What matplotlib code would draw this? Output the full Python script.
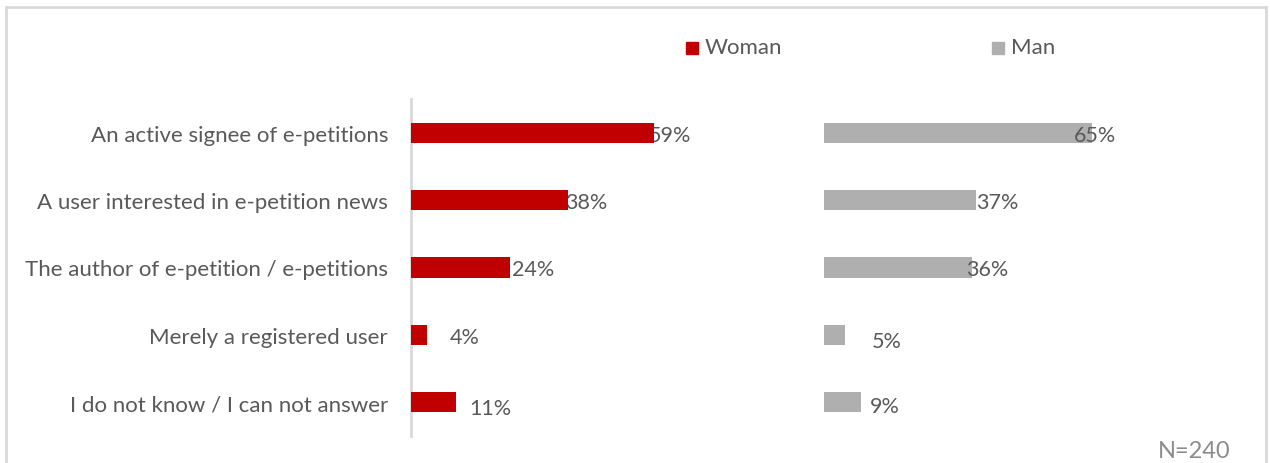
import numpy as np
import matplotlib
matplotlib.use("Agg")
import matplotlib.pyplot as plt
from matplotlib.patches import Rectangle

plt.rcParams['font.family'] = ['Lato', 'DejaVu Sans']

categories = [
    "An active signee of e-petitions",
    "A user interested in e-petition news",
    "The author of e-petition / e-petitions",
    "Merely a registered user",
    "I do not know / I can not answer",
]
woman = [59, 38, 24, 4, 11]
man = [65, 37, 36, 5, 9]
series_names = ["Woman", "Man"]
note = "N=240"

RED = '#c00000'
GREY = '#afafaf'
TEXT = '#595959'
LINE = '#d9d9d9'

# label nudges (pixels) to mimic the Excel placement
woman_dx = [-5, -2, 2, 22, 13]
man_dx = [-18, 0, -6, 27, 9]
woman_dy = [-2, -2, -2, -2, -6]
man_dy = [-2, -2, -2, -6, -4]

fig = plt.figure(figsize=(12.7, 4.64), dpi=100)

W, H = 1270, 464
ax1 = fig.add_axes([411 / W, 1 - 437 / H, 412 / W, 337 / H])
ax2 = fig.add_axes([824 / W, 1 - 437 / H, 412 / W, 337 / H])

y = np.arange(len(categories))


def draw(ax, vals, color, dx, dy, text_on_top):
    ax.barh(y, vals, height=0.3, color=color, zorder=3)
    for yi, v, ddx, ddy in zip(y, vals, dx, dy):
        ax.annotate(f"{v}%", (v, yi), xytext=(ddx, ddy), textcoords='offset pixels',
                    ha='left', va='center', fontsize=15.5, color=TEXT,
                    zorder=4 if text_on_top else 2)
    ax.set_xlim(0, 100)
    ax.set_ylim(len(categories) - 0.5, -0.5)
    ax.set_xticks([])
    for s in ax.spines.values():
        s.set_visible(False)
    ax.patch.set_visible(False)


draw(ax1, woman, RED, woman_dx, woman_dy, False)
draw(ax2, man, GREY, man_dx, man_dy, True)

ax1.spines['left'].set_visible(True)
ax1.spines['left'].set_color(LINE)
ax1.spines['left'].set_linewidth(2)
ax1.set_yticks(y)
ax1.set_yticklabels(categories, fontsize=16, color=TEXT)
ax1.tick_params(axis='y', length=0, pad=16.5)
ax2.set_yticks([])

# legend entries, placed like the Excel header
fig.patches.append(Rectangle((686 / W, 1 - 55 / H), 12 / W, 12 / H,
                             transform=fig.transFigure, color=RED))
fig.text(705 / W, 1 - 48 / H, series_names[0], fontsize=16, color=TEXT,
         ha='left', va='center')
fig.patches.append(Rectangle((992 / W, 1 - 55 / H), 12 / W, 12 / H,
                             transform=fig.transFigure, color=GREY))
fig.text(1011 / W, 1 - 48 / H, series_names[1], fontsize=16, color=TEXT,
         ha='left', va='center')

fig.text(1231 / W, 1 - 452 / H, note, fontsize=17, color='#8c8c8c',
         ha='right', va='center')

# chart-area border
fig.patches.append(Rectangle((6 / W, -0.05), 1260 / W, 1.05 - 8 / H,
                             transform=fig.transFigure, fill=False,
                             edgecolor=LINE, linewidth=2))

fig.savefig("out.png", dpi=100, facecolor='white')
